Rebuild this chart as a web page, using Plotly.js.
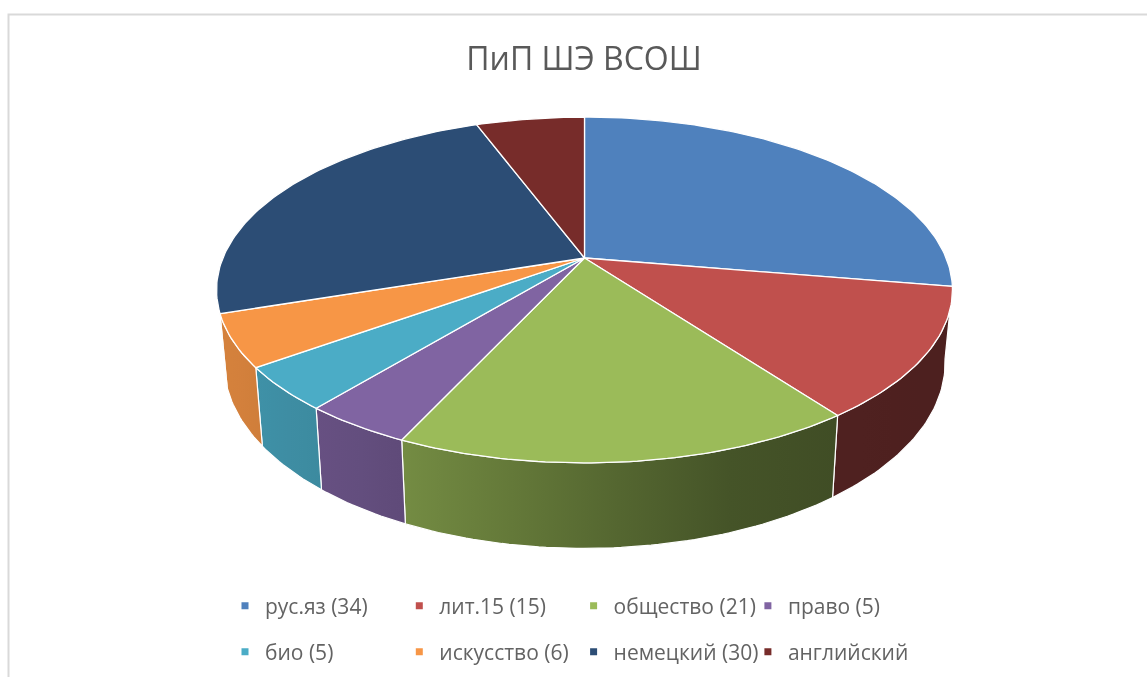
<!DOCTYPE html>
<html>
<head>
<meta charset="utf-8">
<script src="https://cdn.plot.ly/plotly-3.0.1.min.js"></script>
<style>html,body{margin:0;padding:0;background:#fff}#chart{filter:blur(0.5px)}</style>
</head>
<body>
<div id="chart" style="width:1147px;height:677px"></div>
<script>
// Data
const titleText = 'ПиП ШЭ ВСОШ';
const categories = ['рус.яз (34)','лит.15 (15)','общество (21)','право (5)','био (5)','искусство (6)','немецкий (30)','английский'];
const values = [34,15,21,5,5,6,30,7];
const colors = ['#4f81bd','#c0504d','#9bbb59','#8064a2','#4bacc6','#f79646','#2c4d75','#772c2a'];

// Perspective view of the disc, in pixels
const cx = 584.5, cy = 258, kx = 361.6, ky = 167, persp = -0.185;
const shrink = 0.98, depthFront = 85.5, depthSlope = 0.073, frontY = 463;
const wallFrom = 99.5, wallTo = 252;
const shadeX = [230,400,600,760,950];
const shadeK = [0.86,0.75,0.56,0.42,0.40];
const textColor = '#636363';
const fontName = '"Open Sans", "Noto Sans", sans-serif';

function project(deg){
  const t = deg*Math.PI/180, X = Math.sin(t), Y = -Math.cos(t), w = 1+persp*Y;
  return [cx+kx*X/w, cy+ky*Y/w];
}
function below(p){
  return [cx+shrink*(p[0]-cx), p[1]+depthFront+depthSlope*(p[1]-frontY)];
}
function shade(x){
  if(x<=shadeX[0]) return shadeK[0];
  for(let i=1;i<shadeX.length;i++){
    if(x<=shadeX[i]) return shadeK[i-1]+(shadeK[i]-shadeK[i-1])*(x-shadeX[i-1])/(shadeX[i]-shadeX[i-1]);
  }
  return shadeK[shadeK.length-1];
}
function tint(hex,k){
  const n=parseInt(hex.slice(1),16);
  return `rgb(${Math.round((n>>16)*k)},${Math.round(((n>>8)&255)*k)},${Math.round((n&255)*k)})`;
}
function arc(a,b){
  const pts=[]; const n=Math.max(2,Math.ceil((b-a)));
  for(let i=0;i<=n;i++) pts.push(project(a+(b-a)*i/n));
  return pts;
}

const total = values.reduce((s,v)=>s+v,0);
const walls=[], tops=[], keys=[];
let acc=0;
values.forEach((v,i)=>{
  const a=acc/total*360, b=(acc+v)/total*360; acc+=v;
  const from=Math.max(a,wallFrom), to=Math.min(b,wallTo);
  if(to>from){
    const rim=arc(from,to), low=rim.map(below).reverse(), poly=rim.concat(low);
    poly.push(rim[0]);
    const xs=poly.map(p=>p[0]), lo=Math.min(...xs), hi=Math.max(...xs);
    const scale=[0,0.25,0.5,0.75,1].map(f=>[f,tint(colors[i],shade(lo+(hi-lo)*f))]);
    walls.push({type:'scatter',mode:'lines',x:xs,y:poly.map(p=>p[1]),fill:'toself',
      fillgradient:{type:'horizontal',colorscale:scale,start:lo,stop:hi},
      line:{color:'#ffffff',width:1.2},hoverinfo:'skip',showlegend:false});
  }
  const top=[[cx,cy]].concat(arc(a,b)); top.push([cx,cy]);
  tops.push({type:'scatter',mode:'lines',x:top.map(p=>p[0]),y:top.map(p=>p[1]),fill:'toself',
    fillcolor:colors[i],line:{color:'#ffffff',width:1.3},name:categories[i],
    hoverinfo:'name',showlegend:false});
  keys.push({type:'scatter',mode:'markers',x:[null],y:[null],name:categories[i],
    marker:{symbol:'square',size:7,color:colors[i]},hoverinfo:'skip',
    legend:i<4?'legend':'legend2'});
});

function legendBox(yPx){
  return {orientation:'h',x:225/1147,xanchor:'left',y:1-yPx/677,yanchor:'middle',
    entrywidth:129.3,entrywidthmode:'pixels',bgcolor:'rgba(0,0,0,0)',
    font:{family:fontName,size:21,color:textColor},itemclick:false,itemdoubleclick:false};
}

const layout={
  width:1147,height:677,autosize:false,
  margin:{l:0,r:0,t:0,b:0},
  paper_bgcolor:'#ffffff',plot_bgcolor:'#ffffff',
  xaxis:{range:[0,1147],visible:false,fixedrange:true},
  yaxis:{range:[677,0],visible:false,fixedrange:true},
  title:{text:titleText,x:584/1147,xanchor:'center',y:1-59/677,yanchor:'middle',yref:'container',
    font:{family:fontName,size:32,color:'#595959'}},
  legend:legendBox(606),
  legend2:legendBox(652),
  shapes:[{type:'path',path:'M8.5,677 L8.5,14.5 L1147,14.5',line:{color:'#d9d9d9',width:2},layer:'below'}]
};
Plotly.newPlot('chart',walls.concat(tops,keys),layout,{displayModeBar:false,responsive:false});
</script>
</body>
</html>
